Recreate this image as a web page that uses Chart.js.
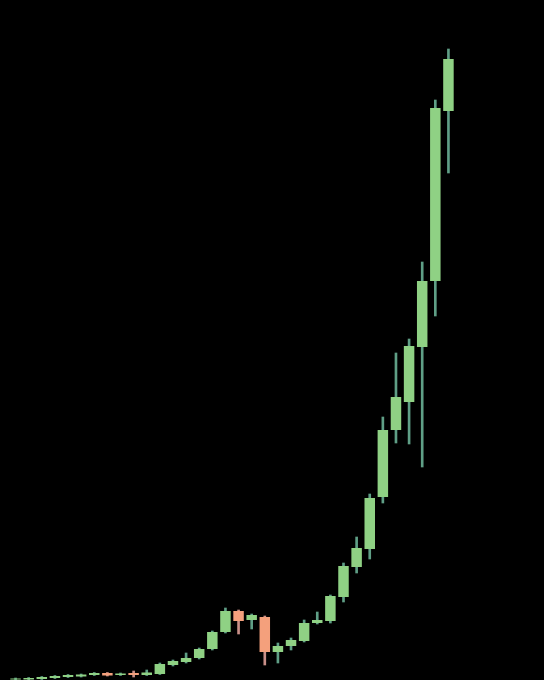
<!DOCTYPE html>
<html>
<head>
<meta charset="utf-8">
<script src="https://cdn.jsdelivr.net/npm/chart.js@4.4.1/dist/chart.umd.min.js"></script>
<style>
    html, body { margin: 0; padding: 0; background: #000; }
    #wrap { width: 544px; height: 680px; position: relative; }
</style>
</head>
<body>
<div id="wrap"><canvas id="candleChart"></canvas></div>
<script>
// One label per candle (no axis text shown in the picture)
const periods = ['1','2','3','4','5','6','7','8','9','10','11','12','13','14','15','16','17',
                 '18','19','20','21','22','23','24','25','26','27','28','29','30','31','32','33','34'];

const opens  = [0.5, 0.5, 1, 2, 3, 3.5, 5, 7, 5, 7, 5, 6, 15, 18, 22, 31, 48,
                69, 60, 63, 28, 34, 39, 57, 59, 83, 113, 131, 183, 250, 278, 333, 399, 569];
const closes = [1.5, 2, 3, 4, 5, 5.5, 7, 4.5, 6.5, 5, 7.5, 16, 19, 22, 31, 48, 69,
                59, 65, 28, 34, 40, 57, 60, 84, 114, 132, 182, 250, 283, 334, 399, 572, 621];
const highs  = [2, 2.5, 3.5, 4.5, 5.5, 6, 7.5, 7.5, 7, 9, 10, 17, 20, 27, 32, 49, 72,
                70, 66, 64, 37, 42, 60, 68, 85, 117, 143, 186, 263, 327, 341, 418, 580, 631];
const lows   = [0, 0, 0.5, 1.5, 2.5, 3, 4.5, 4, 4.5, 3, 4.5, 5.5, 14, 17, 21, 30, 47,
                46, 51, 15, 17, 30, 38, 56, 57, 78, 107, 121, 177, 237, 236, 213, 364, 507];

const UP = '#8fd184';
const DOWN = '#f4a07c';
const UP_WICK = '#5f9f86';
const DOWN_WICK = '#c98f88';

const bodies = opens.map((o, i) => [o, closes[i]]);
const wicks = lows.map((l, i) => [l, highs[i]]);
const isUp = opens.map((o, i) => closes[i] >= o);

const ctx = document.getElementById('candleChart').getContext('2d');
new Chart(ctx, {
    type: 'bar',
    data: {
        labels: periods,
        datasets: [
            {
                label: 'Body',
                data: bodies,
                backgroundColor: isUp.map(u => u ? UP : DOWN),
                borderWidth: 0,
                barPercentage: 0.8,
                categoryPercentage: 1,
                grouped: false,
                order: 0
            },
            {
                label: 'Wick',
                data: wicks,
                backgroundColor: isUp.map(u => u ? UP_WICK : DOWN_WICK),
                borderWidth: 0,
                barThickness: 2,
                grouped: false,
                order: 1
            }
        ]
    },
    options: {
        responsive: true,
        maintainAspectRatio: false,
        animation: false,
        layout: { padding: { left: 9, right: 89, top: 0, bottom: 0 } },
        scales: {
            x: { display: false, offset: true },
            y: { display: false, min: 0, max: 680 }
        },
        plugins: {
            legend: { display: false },
            tooltip: { enabled: false }
        }
    }
});
</script>
</body>
</html>
